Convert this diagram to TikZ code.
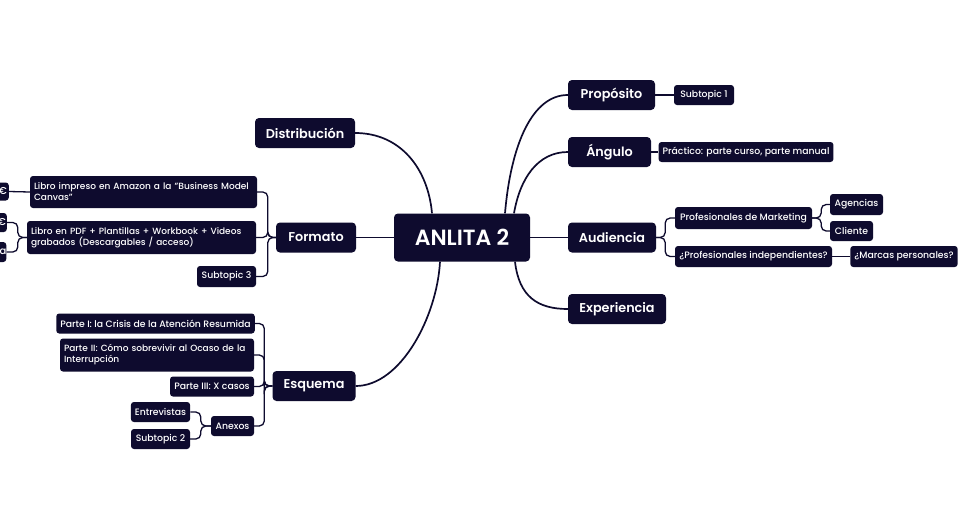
\documentclass[tikz,border=0pt]{standalone}
\usepackage{fontspec}
\setmainfont{Poppins Medium}[BoldFont={Poppins SemiBold}]
\usetikzlibrary{positioning}
\definecolor{navy}{HTML}{0E0B2E}
\begin{document}
\begin{tikzpicture}[x=1pt,y=-1pt,
  every node/.style={fill=navy,text=white,rounded corners=4pt,inner sep=0pt},
  topic/.style={minimum height=30pt,font=\fontsize{12.8}{14}\selectfont\bfseries},
  sub/.style={minimum height=20pt,rounded corners=3pt,font=\fontsize{9.3}{11}\selectfont,inner xsep=4pt},
  multi/.style={sub,align=left,inner ysep=4pt,font=\fontsize{9}{11}\selectfont},
  link/.style={draw=navy,line width=1.7pt},
  slink/.style={draw=navy,line width=1.3pt,rounded corners=5pt}]
\useasboundingbox[fill=white] (0,0) rectangle (958,504);

% central
\node[minimum width=136pt,minimum height=48pt,font=\fontsize{22}{24}\selectfont\bfseries] (c) at (462,237.5) {ANLITA 2};

% main topics
\node[topic,minimum width=100pt] (dist) at (305,133) {Distribución};
\node[topic,minimum width=80pt] (fmt) at (316,237.5) {Formato};
\node[topic,minimum width=83pt] (esq) at (314,386) {Esquema};
\node[topic,minimum width=87pt] (prop) at (611.5,95) {Propósito};
\node[topic,minimum width=83pt] (ang) at (609.5,152) {Ángulo};
\node[topic,minimum width=88pt] (aud) at (612,237.5) {Audiencia};
\node[topic,minimum width=98pt] (exp) at (617,309) {Experiencia};

% right subtopics
\node[sub,minimum width=60pt] (s1) at (704,95) {Subtopic 1};
\node[sub,minimum width=174pt] (prac) at (746,152) {Práctico: parte curso, parte manual};
\node[sub,minimum width=137pt,minimum height=22pt] (pm) at (743.5,218) {Profesionales de Marketing};
\node[sub,minimum width=53pt,minimum height=21pt] (age) at (856.5,204.5) {Agencias};
\node[sub,minimum width=43pt] (cli) at (851.5,231) {Cliente};
\node[sub,minimum width=157pt,minimum height=21pt] (pi) at (753.5,256.5) {¿Profesionales independientes?};
\node[sub,minimum width=106pt,minimum height=21pt] (mp) at (904,256.5) {¿Marcas personales?};

% Formato children
\node[multi,text width=219pt,minimum height=32pt] (li) at (143.5,192) {Libro impreso en Amazon a la "Business Model\\Canvas"};
\node[multi,text width=221pt,minimum height=33pt] (lp) at (141.5,237.5) {Libro en PDF + Plantillas + Workbook + Videos\\grabados (Descargables / acceso)};
\node[sub,minimum width=59pt,minimum height=21pt] (s3) at (226.5,276.5) {Subtopic 3};
\node[sub,anchor=east,text width=40pt,align=right,minimum height=18pt,inner xsep=2pt,font=\fontsize{10}{11}\selectfont] (e1) at (9,191.5) {€};
\node[sub,anchor=east,text width=40pt,align=right,minimum height=19pt,inner xsep=1pt,font=\fontsize{10}{11}\selectfont] (e2) at (7,222.5) {€};
\node[sub,anchor=east,text width=40pt,align=right,minimum height=20pt,inner xsep=0pt,font=\fontsize{10}{11}\selectfont] (e3) at (6.5,252) {a};

% Esquema children
\node[sub,minimum width=197pt] (p1) at (155.5,323.5) {Parte I: la Crisis de la Atención Resumida};
\node[multi,text width=186pt,minimum height=33pt] (p2) at (157,355) {Parte II: Cómo sobrevivir al Ocaso de la\\Interrupción};
\node[sub,minimum width=84pt] (p3) at (212,386.5) {Parte III: X casos};
\node[sub,minimum width=43pt] (anx) at (232.5,426) {Anexos};
\node[sub,minimum width=59pt] (ent) at (160.5,412) {Entrevistas};
\node[sub,minimum width=59pt] (s2) at (160.5,439) {Subtopic 2};

% main connectors
\draw[link] (dist.east) .. controls +(45,0) and +(-4,-45) .. ([xshift=-30pt]c.north);
\draw[link] (fmt.east) -- (c.west);
\draw[link] (esq.east) .. controls +(45,0) and +(-3,55) .. ([xshift=-22pt]c.south);
\draw[link] ([xshift=43pt]c.north) .. controls +(6,-70) and +(-35,0) .. (prop.west);
\draw[link] ([xshift=52pt]c.north) .. controls +(6,-35) and +(-30,0) .. (ang.west);
\draw[link] (c.east) -- (aud.west);
\draw[link] ([xshift=53pt]c.south) .. controls +(4,35) and +(-30,0) .. (exp.west);

% sub connectors
\draw[slink] (prop.east) -- (s1.west);
\draw[slink] (ang.east) -- (prac.west);
\draw[slink] (aud.east) -- ++(9,0) |- (pm.west);
\draw[slink] (aud.east) -- ++(9,0) |- (pi.west);
\draw[slink] (pm.east) -- ++(9,0) |- (age.west);
\draw[slink] (pm.east) -- ++(9,0) |- (cli.west);
\draw[slink] (pi.east) -- (mp.west);

\draw[slink] (fmt.west) -- ++(-8,0) |- (li.east);
\draw[slink] (fmt.west) -- ++(-8,0) |- (lp.east);
\draw[slink] (fmt.west) -- ++(-8,0) |- (s3.east);
\draw[slink] (li.west) -- (e1.east);
\draw[slink] (lp.west) -- ++(-9,0) |- (e2.east);
\draw[slink] (lp.west) -- ++(-9,0) |- (e3.east);

\draw[slink] (esq.west) -- ++(-8,0) |- (p1.east);
\draw[slink] (esq.west) -- ++(-8,0) |- (p2.east);
\draw[slink] (esq.west) -- ++(-8,0) |- (p3.east);
\draw[slink] (esq.west) -- ++(-8,0) |- (anx.east);
\draw[slink] (anx.west) -- ++(-10,0) |- (ent.east);
\draw[slink] (anx.west) -- ++(-10,0) |- (s2.east);
\end{tikzpicture}
\end{document}
